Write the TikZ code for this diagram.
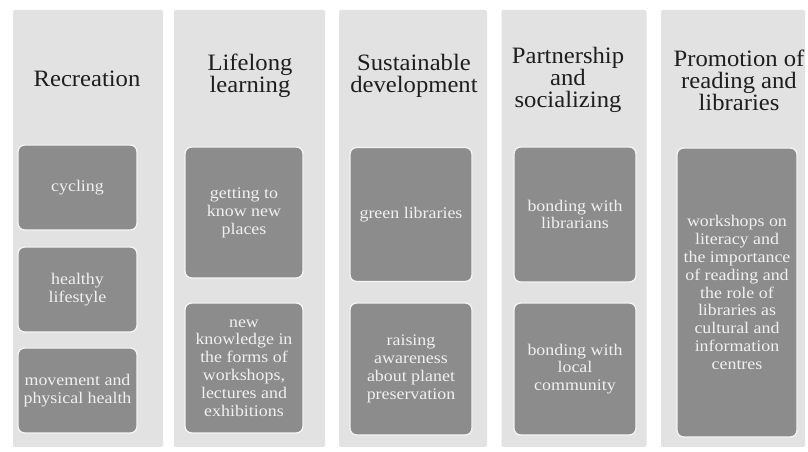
\documentclass[tikz,border=0pt]{standalone}
\usepackage{fontspec}
\setmainfont{Liberation Serif}
\newfontfamily\titlefont[FakeStretch=1.05]{Liberation Serif}
\newfontfamily\itemfont[FakeStretch=1.1]{Liberation Serif}
\definecolor{colbg}{HTML}{E2E2E2}
\definecolor{boxgrey}{HTML}{8C8C8C}
\definecolor{boxedge}{HTML}{F4F4F4}
\definecolor{boxtext}{HTML}{F0F0F0}
\definecolor{titlecol}{HTML}{1E1E1E}
\tikzset{
  colbox/.style 2 args={fill=colbg, rounded corners=1.5pt, inner sep=0pt,
    minimum width=#1*0.75pt, minimum height=#2*0.75pt},
  itembox/.style 2 args={fill=boxgrey, draw=boxedge, line width=1pt, rounded corners=5pt,
    inner sep=0pt, minimum width=#1*0.75pt, minimum height=#2*0.75pt,
    text=boxtext, align=center, font=\itemfont\fontsize{12.2}{13.4}\selectfont},
  titletext/.style={text=titlecol, align=center, inner sep=0pt,
    font=\titlefont\fontsize{17.6}{16.6}\selectfont}
}
\begin{document}
\begin{tikzpicture}[x=0.75pt,y=-0.75pt]
\useasboundingbox (0,0) rectangle (808,452);
\fill[white] (0,0) rectangle (808,452);

% column backgrounds
\node[colbox={150}{437}] (col1) at (88,228.5) {};
\node[colbox={151}{437}] (col2) at (249.5,228.5) {};
\node[colbox={148}{437}] (col3) at (413,228.5) {};
\node[colbox={145}{437}] (col4) at (574,228.5) {};
\node[colbox={144}{437}] (col5) at (733,228.5) {};

% titles
\node[titletext] (t1) at (87,79) {Recreation};
\node[titletext] (t2) at (250,76) {Lifelong\\learning};
\node[titletext] (t3) at (414,76) {Sustainable\\development};
\node[titletext] (t4) at (568,80) {Partnership\\and\\socializing};
\node[titletext] (t5) at (739,80) {Promotion of\\reading and\\libraries};

% column 1
\node[itembox={119}{85}] (a1) at (77.5,187.5) {cycling};
\node[itembox={119}{85}] (a2) at (77.5,289.5) {healthy\\lifestyle};
\node[itembox={119}{85}] (a3) at (77.5,390.5) {movement and\\physical health};

% column 2
\node[itembox={118}{131}] (b1) at (244,212.5) {getting to\\know new\\places};
\node[itembox={118}{130}] (b2) at (244,368) {new\\knowledge in\\the forms of\\workshops,\\lectures and\\exhibitions};

% column 3
\node[itembox={122}{134}] (c1) at (411,214.5) {green libraries};
\node[itembox={122}{132}] (c2) at (411,369) {raising\\awareness\\about planet\\preservation};

% column 4
\node[itembox={122}{135}] (d1) at (575,214.5) {bonding with\\librarians};
\node[itembox={122}{132}] (d2) at (575,369) {bonding with\\local\\community};

% column 5
\node[itembox={120}{289}] (e1) at (737,292.5) {workshops on\\literacy and\\the importance\\of reading and\\the role of\\libraries as\\cultural and\\information\\centres};
\end{tikzpicture}
\end{document}
